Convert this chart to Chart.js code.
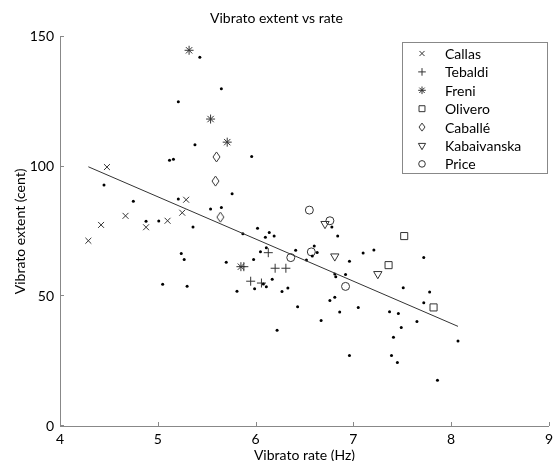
<!DOCTYPE html>
<html>
<head>
<meta charset="utf-8">
<title>Vibrato extent vs rate</title>
<script src="https://cdn.jsdelivr.net/npm/chart.js@4.4.1/dist/chart.umd.min.js"></script>
<style>
  html, body { margin: 0; padding: 0; background: #fff; }
</style>
</head>
<body>
<canvas id="chart" width="558" height="461"></canvas>
<script>
// --- DATA (rate in Hz, extent in cent) ---
const callasRate = [4.48, 5.29, 5.25, 4.67, 4.42, 5.10, 4.88, 4.29];
const callasExtent = [99.8, 87.2, 82.2, 81.0, 77.5, 79.1, 76.6, 71.4];

const tebaldiRate = [6.13, 6.20, 6.31, 5.95, 6.06, 5.88];
const tebaldiExtent = [66.8, 60.8, 60.8, 55.8, 55.1, 61.4];

const freniRate = [5.32, 5.54, 5.71, 5.85];
const freniExtent = [144.8, 118.3, 109.4, 61.4];

const oliveroRate = [7.52, 7.36, 7.82];
const oliveroExtent = [73.2, 62.0, 45.7];

const caballeRate = [5.60, 5.59, 5.64];
const caballeExtent = [103.7, 94.4, 80.5];

const kabaivanskaRate = [6.71, 6.81, 7.25];
const kabaivanskaExtent = [77.9, 65.4, 58.6];

const priceRate = [6.55, 6.76, 6.36, 6.57, 6.92];
const priceExtent = [83.2, 79.1, 64.9, 67.1, 53.8];

// other singers, drawn as small dots
const otherRate = [5.43, 5.65, 5.21, 5.38, 5.96, 5.12, 5.16, 4.45, 5.76, 4.75,
                   5.21, 5.54, 5.65, 4.88, 5.01, 5.36, 6.02, 5.24, 5.27, 5.05,
                   5.30, 6.78, 6.84, 5.87, 6.14, 6.19, 6.10, 6.05, 6.11, 6.41,
                   6.60, 6.63, 6.58, 6.52, 6.96, 6.82, 6.81, 6.92, 5.70, 5.98,
                   6.17, 5.99, 6.11, 6.08, 5.81, 6.27, 6.33, 6.43, 6.22, 6.67,
                   6.76, 6.81, 6.86, 6.96, 7.10, 7.21, 7.72, 7.51, 7.78, 7.72,
                   7.05, 7.37, 7.46, 7.65, 7.49, 7.41, 8.07, 7.39, 7.45, 7.86];
const otherExtent = [142.1, 130.0, 125.0, 108.4, 103.9, 102.4, 102.8, 92.9, 89.5, 86.6,
                     87.5, 83.6, 84.2, 78.9, 79.0, 76.7, 76.2, 66.5, 64.2, 54.6,
                     53.9, 76.7, 73.2, 74.1, 74.6, 73.2, 72.7, 67.2, 68.7, 67.7,
                     69.4, 66.9, 65.5, 64.0, 63.5, 57.5, 58.6, 58.4, 63.1, 64.2,
                     56.6, 52.9, 53.7, 54.7, 51.9, 51.8, 53.2, 46.0, 36.9, 40.7,
                     48.4, 49.6, 43.9, 27.2, 66.7, 67.8, 64.9, 53.3, 51.6, 47.5,
                     45.7, 44.0, 43.4, 40.3, 38.0, 34.2, 32.8, 27.2, 24.5, 17.6];

// least-squares fit line end points
const fitRate = [4.29, 8.07];
const fitExtent = [99.9, 38.4];

const xTicks = [4, 5, 6, 7, 8, 9];
const yTicks = [0, 50, 100, 150];

const FONT = 'Lato, "Open Sans", sans-serif';
const INK = '#333';

// tall diamond marker (Chart.js rectRot is square)
function diamond(w, h) {
    const c = document.createElement('canvas');
    c.width = w + 2; c.height = h + 2;
    const g = c.getContext('2d');
    g.strokeStyle = INK; g.lineWidth = 1;
    g.beginPath();
    g.moveTo(c.width / 2, 1);
    g.lineTo(c.width - 1, c.height / 2);
    g.lineTo(c.width / 2, c.height - 1);
    g.lineTo(1, c.height / 2);
    g.closePath();
    g.stroke();
    return c;
}

const pts = (xs, ys) => xs.map((x, i) => ({ x, y: ys[i] }));

const singers = [
    { label: 'Callas', x: callasRate, y: callasExtent, style: 'crossRot', r: 4.2, legendR: 3.6 },
    { label: 'Tebaldi', x: tebaldiRate, y: tebaldiExtent, style: 'cross', r: 4.5, legendR: 3.8 },
    { label: 'Freni', x: freniRate, y: freniExtent, style: 'star', r: 4.5, legendR: 3.8 },
    { label: 'Olivero', x: oliveroRate, y: oliveroExtent, style: 'rect', r: 5, legendR: 4.2 },
    { label: 'Caballé', x: caballeRate, y: caballeExtent, style: diamond(7, 10), legendStyle: diamond(6, 8), r: 5 },
    { label: 'Kabaivanska', x: kabaivanskaRate, y: kabaivanskaExtent, style: 'triangle', rot: 180, r: 4.8, legendR: 4.2 },
    { label: 'Price', x: priceRate, y: priceExtent, style: 'circle', r: 4, legendR: 3.3 }
];

const datasets = [
    {
        label: 'fit',
        data: pts(fitRate, fitExtent),
        showLine: true,
        borderColor: INK,
        borderWidth: 1,
        pointRadius: 0
    },
    {
        label: 'others',
        data: pts(otherRate, otherExtent),
        pointStyle: 'circle',
        pointRadius: 1.5,
        pointBorderWidth: 0,
        pointBackgroundColor: '#000'
    }
].concat(singers.map(s => ({
    label: s.label,
    data: pts(s.x, s.y),
    pointStyle: s.style,
    pointRotation: s.rot || 0,
    pointRadius: s.r,
    pointBorderWidth: 1,
    pointBorderColor: INK,
    pointBackgroundColor: 'rgba(0,0,0,0)'
})));

// --- inward tick marks ---
const innerTicks = {
    id: 'innerTicks',
    afterDraw(chart) {
        const { ctx, chartArea: a, scales: { x, y } } = chart;
        ctx.save();
        ctx.strokeStyle = '#888';
        ctx.lineWidth = 1;
        ctx.beginPath();
        xTicks.forEach(v => {
            const px = Math.round(x.getPixelForValue(v)) + 0.5;
            ctx.moveTo(px, a.bottom); ctx.lineTo(px, a.bottom - 4);
        });
        yTicks.forEach(v => {
            const py = Math.round(y.getPixelForValue(v)) - 0.5;
            ctx.moveTo(a.left, py); ctx.lineTo(a.left + 4, py);
        });
        ctx.stroke();
        ctx.restore();
    }
};

// --- boxed legend inside the plot, top right ---
const boxLegend = {
    id: 'boxLegend',
    afterDraw(chart) {
        const { ctx } = chart;
        const bx = 402.5, by = 42.5, bw = 145, bh = 131;
        ctx.save();
        ctx.fillStyle = '#fff';
        ctx.fillRect(bx, by, bw, bh);
        ctx.strokeStyle = '#888';
        ctx.lineWidth = 1;
        ctx.strokeRect(bx, by, bw, bh);
        ctx.font = '14px ' + FONT;
        ctx.textBaseline = 'middle';
        ctx.textAlign = 'left';
        singers.forEach((s, i) => {
            const cy = 53.5 + i * 18.4;
            ctx.strokeStyle = INK;
            ctx.fillStyle = 'rgba(0,0,0,0)';
            ctx.lineWidth = 1;
            Chart.helpers.drawPoint(ctx, {
                pointStyle: s.legendStyle || s.style,
                rotation: s.rot || 0,
                radius: s.legendR || s.r,
                borderWidth: 1
            }, 422, cy);
            ctx.fillStyle = '#000';
            ctx.fillText(s.label, 445, cy + 1);
        });
        ctx.restore();
    }
};

new Chart(document.getElementById('chart'), {
    type: 'scatter',
    data: { datasets },
    options: {
        responsive: false,
        animation: false,
        layout: { padding: { left: 0, right: 5, top: 0, bottom: 0 } },
        plugins: {
            legend: { display: false },
            tooltip: { enabled: false },
            title: {
                display: true,
                text: 'Vibrato extent vs rate',
                color: '#000',
                font: { family: FONT, size: 14, weight: 'normal', lineHeight: 1.2 },
                padding: { top: 10, bottom: 10 }
            }
        },
        scales: {
            x: {
                type: 'linear',
                min: 4, max: 9,
                afterBuildTicks: s => { s.ticks = xTicks.map(v => ({ value: v })); },
                ticks: { color: '#000', padding: 5, font: { family: FONT, size: 14 } },
                grid: { display: false, drawTicks: false },
                border: { color: '#888', width: 1 },
                title: {
                    display: true, text: 'Vibrato rate (Hz)', color: '#000', padding: 0,
                    font: { family: FONT, size: 14, lineHeight: 0.8 }
                },
                afterFit: s => { s.height = 35; }
            },
            y: {
                min: 0, max: 150,
                afterBuildTicks: s => { s.ticks = yTicks.map(v => ({ value: v })); },
                ticks: { color: '#000', padding: 6, font: { family: FONT, size: 14 } },
                grid: { display: false, drawTicks: false },
                border: { color: '#888', width: 1 },
                title: {
                    display: true, text: 'Vibrato extent (cent)', color: '#000',
                    padding: { top: 15, bottom: 0 },
                    font: { family: FONT, size: 14, lineHeight: 0.8 }
                },
                afterFit: s => { s.width = 60; }
            }
        }
    },
    plugins: [innerTicks, boxLegend]
});
</script>
</body>
</html>
